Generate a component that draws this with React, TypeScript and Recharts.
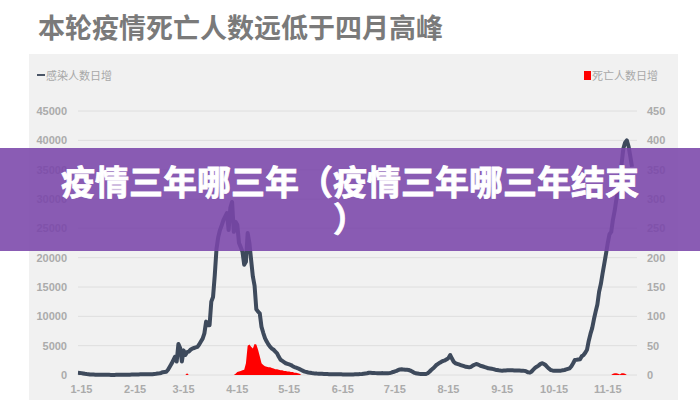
import { ComposedChart, Line, Area, XAxis, YAxis, CartesianGrid } from "recharts";

const TITLE = "本轮疫情死亡人数远低于四月高峰";
const BANNER = "疫情三年哪三年（疫情三年哪三年结束）";
const LINE_NAME = "感染人数日增";
const AREA_NAME = "死亡人数日增";

// 感染人数日增 (Jan starts on the 13th)
const infJan = [380, 360, 320, 260, 200, 160, 130, 100, 80, 70, 60, 55, 50, 45, 40, 35, 30, 30, 25];
const infFeb = [20, 15, 20, 25, 30, 40, 45, 55, 60, 60, 55, 60, 65, 75, 80, 90, 100, 110, 120, 130, 120, 110, 115, 125, 140, 170, 200, 240];
const infMar = [280, 350, 480, 520, 560, 900, 1400, 1900, 2500, 3100, 2300, 5300, 4600, 2300, 4200, 3400, 3900, 4000, 4300, 4500, 4600, 4700, 4800, 5200, 5700, 6200, 7100, 9100, 8500, 8500, 12500];
const infApr = [13300, 17000, 21500, 23500, 24700, 25500, 26400, 27000, 27600, 24700, 28500, 29500, 24400, 26100, 25600, 22500, 21800, 21000, 18800, 19300, 24200, 22500, 19600, 16800, 15200, 11200, 10800, 10500, 8200, 7200];
const infMay = [6300, 5700, 5200, 4800, 4500, 4300, 4000, 3700, 3100, 2600, 2400, 2200, 2000, 1900, 1800, 1700, 1500, 1350, 1250, 1140, 1000, 850, 700, 570, 500, 430, 380, 330, 290, 260, 240];
const infJun = [230, 220, 200, 180, 160, 150, 140, 130, 120, 120, 130, 140, 120, 110, 100, 90, 90, 80, 80, 90, 100, 110, 120, 130, 150, 180, 220, 260, 300, 380];
const infJul = [380, 360, 340, 320, 300, 300, 310, 320, 300, 290, 300, 320, 400, 520, 600, 700, 850, 950, 970, 920, 900, 880, 850, 750, 600, 420, 300, 250, 200, 180, 170];
const infAug = [170, 170, 300, 550, 850, 1100, 1400, 1700, 1900, 2100, 2270, 2400, 2500, 2670, 2900, 3400, 2800, 2270, 2000, 1900, 1800, 1700, 1600, 1500, 1400, 1350, 1300, 1400, 1600, 1750, 1870];
const infSep = [1800, 1650, 1530, 1450, 1350, 1250, 1140, 1100, 1050, 1000, 900, 850, 800, 760, 740, 760, 780, 800, 820, 800, 800, 780, 760, 760, 750, 740, 740, 700, 600, 450];
const infOct = [400, 600, 900, 1200, 1420, 1600, 1850, 2000, 1900, 1700, 1400, 1100, 850, 780, 740, 720, 720, 730, 740, 800, 850, 950, 1050, 1140, 1500, 2000, 2560, 2600, 2650, 2700, 3200];
const infNov = [3400, 3800, 4300, 5800, 7000, 8000, 9500, 10800, 12000, 14200, 15500, 17300, 19000, 20700, 22500, 24000, 24400, 26500, 28000, 30000, 31500, 33300, 36000, 38600, 39600, 40000, 39000, 37300, 35500];

// 死亡人数日增, only the days that have any
const deathsMar = [3]; // from 3-17
const deathsApr = [2, 5, 6, 7, 8, 9, 20, 50, 52, 48, 45, 53, 52, 43, 32, 20, 17]; // from 4-14
const deathsMay = [15, 14, 13, 13, 12, 11, 10, 10, 9, 8, 8, 7, 7, 6, 6, 5, 5, 4, 4, 3, 2]; // from 5-1
const deathsNov = [2, 3, 3, 2, 1, 3, 3, 2]; // from 11-18

const xTicks = ["1-15", "2-15", "3-15", "4-15", "5-15", "6-15", "7-15", "8-15", "9-15", "10-15", "11-15"];
const leftTicks = [0, 5000, 10000, 15000, 20000, 25000, 30000, 35000, 40000, 45000];
const rightTicks = [0, 50, 100, 150, 200, 250, 300, 350, 400, 450];

const infSegments = [
  { m: 1, from: 13, values: infJan },
  { m: 2, from: 1, values: infFeb },
  { m: 3, from: 1, values: infMar },
  { m: 4, from: 1, values: infApr },
  { m: 5, from: 1, values: infMay },
  { m: 6, from: 1, values: infJun },
  { m: 7, from: 1, values: infJul },
  { m: 8, from: 1, values: infAug },
  { m: 9, from: 1, values: infSep },
  { m: 10, from: 1, values: infOct },
  { m: 11, from: 1, values: infNov },
];
const deathSegments = [
  { m: 3, from: 17, values: deathsMar },
  { m: 4, from: 14, values: deathsApr },
  { m: 5, from: 1, values: deathsMay },
  { m: 11, from: 18, values: deathsNov },
];

const deathMap = new Map<string, number>();
deathSegments.forEach(({ m, from, values }) =>
  values.forEach((v, i) => deathMap.set(`${m}-${from + i}`, v))
);

const data = infSegments.flatMap(({ m, from, values }) =>
  values.map((v, i) => {
    const date = `${m}-${from + i}`;
    return { date, infected: v, deaths: deathMap.get(date) ?? 0 };
  })
);

const tickStyle = {
  fill: "#ababab",
  fontSize: 11,
  fontWeight: 700,
  fontFamily: "'Liberation Sans', Arial, sans-serif",
};

export default function App() {
  return (
    <div
      style={{
        position: "absolute",
        left: 0,
        top: 0,
        width: 700,
        height: 400,
        background: "#fff",
        overflow: "hidden",
        fontFamily: "'Noto Sans CJK SC', sans-serif",
      }}
    >
      <div
        style={{
          position: "absolute",
          left: 38,
          top: 9,
          fontSize: 27,
          lineHeight: "36px",
          fontWeight: 700,
          color: "#7a7a7a",
          whiteSpace: "nowrap",
        }}
      >
        {TITLE}
      </div>

      <div
        style={{
          position: "absolute",
          left: 29,
          top: 54,
          width: 649,
          height: 346,
          background: "#f1f1f1",
        }}
      >
        {/* legend */}
        <div
          style={{
            position: "absolute",
            left: 8,
            top: 13,
            display: "flex",
            alignItems: "center",
            fontSize: 11,
            color: "#a8a8a8",
            lineHeight: "16px",
          }}
        >
          <span style={{ width: 8, height: 2, background: "#4a5566", marginRight: 1 }} />
          {LINE_NAME}
        </div>
        <div
          style={{
            position: "absolute",
            left: 555,
            top: 13,
            display: "flex",
            alignItems: "center",
            fontSize: 11,
            color: "#a8a8a8",
            lineHeight: "16px",
          }}
        >
          <span style={{ width: 7, height: 9, background: "#ff0000", marginRight: 1 }} />
          {AREA_NAME}
        </div>

        <ComposedChart
          width={649}
          height={346}
          data={data}
          margin={{ top: 57, right: 0, bottom: 0, left: 0 }}
        >
          <CartesianGrid vertical={false} stroke="#dedede" yAxisId="left" />
          <XAxis
            dataKey="date"
            scale="point"
            ticks={xTicks}
            interval={0}
            axisLine={false}
            tickLine={false}
            tickSize={0}
            tickMargin={10}
            height={25}
            padding={{ left: 0, right: 5 }}
            tick={tickStyle}
          />
          <YAxis
            yAxisId="left"
            domain={[0, 45000]}
            ticks={leftTicks}
            interval={0}
            width={49}
            axisLine={false}
            tickLine={false}
            tickSize={0}
            tickMargin={11}
            tick={tickStyle}
          />
          <YAxis
            yAxisId="right"
            orientation="right"
            domain={[0, 450]}
            ticks={rightTicks}
            interval={0}
            width={41}
            axisLine={false}
            tickLine={false}
            tickSize={0}
            tickMargin={10}
            tick={tickStyle}
          />
          <Area
            yAxisId="right"
            type="linear"
            dataKey="deaths"
            fill="#ff0000"
            fillOpacity={1}
            stroke="none"
            isAnimationActive={false}
          />
          <Line
            yAxisId="left"
            type="linear"
            dataKey="infected"
            stroke="#3e4a5c"
            strokeWidth={4}
            strokeLinejoin="round"
            dot={false}
            isAnimationActive={false}
          />
        </ComposedChart>
      </div>

      {/* overlay banner */}
      <div
        style={{
          position: "absolute",
          left: 0,
          top: 148,
          width: 700,
          height: 103,
          background: "rgba(122, 70, 170, 0.88)",
        }}
      >
        <div
          style={{
            position: "absolute",
            left: 0,
            top: 14,
            width: 700,
            textAlign: "center",
            fontSize: 34,
            lineHeight: "37px",
            fontWeight: 700,
            color: "#fff",
            WebkitTextStroke: "0.8px #fff",
            whiteSpace: "nowrap",
          }}
        >
          {BANNER.slice(0, -1)}
          <br />
          {BANNER.slice(-1)}
        </div>
      </div>
    </div>
  );
}
